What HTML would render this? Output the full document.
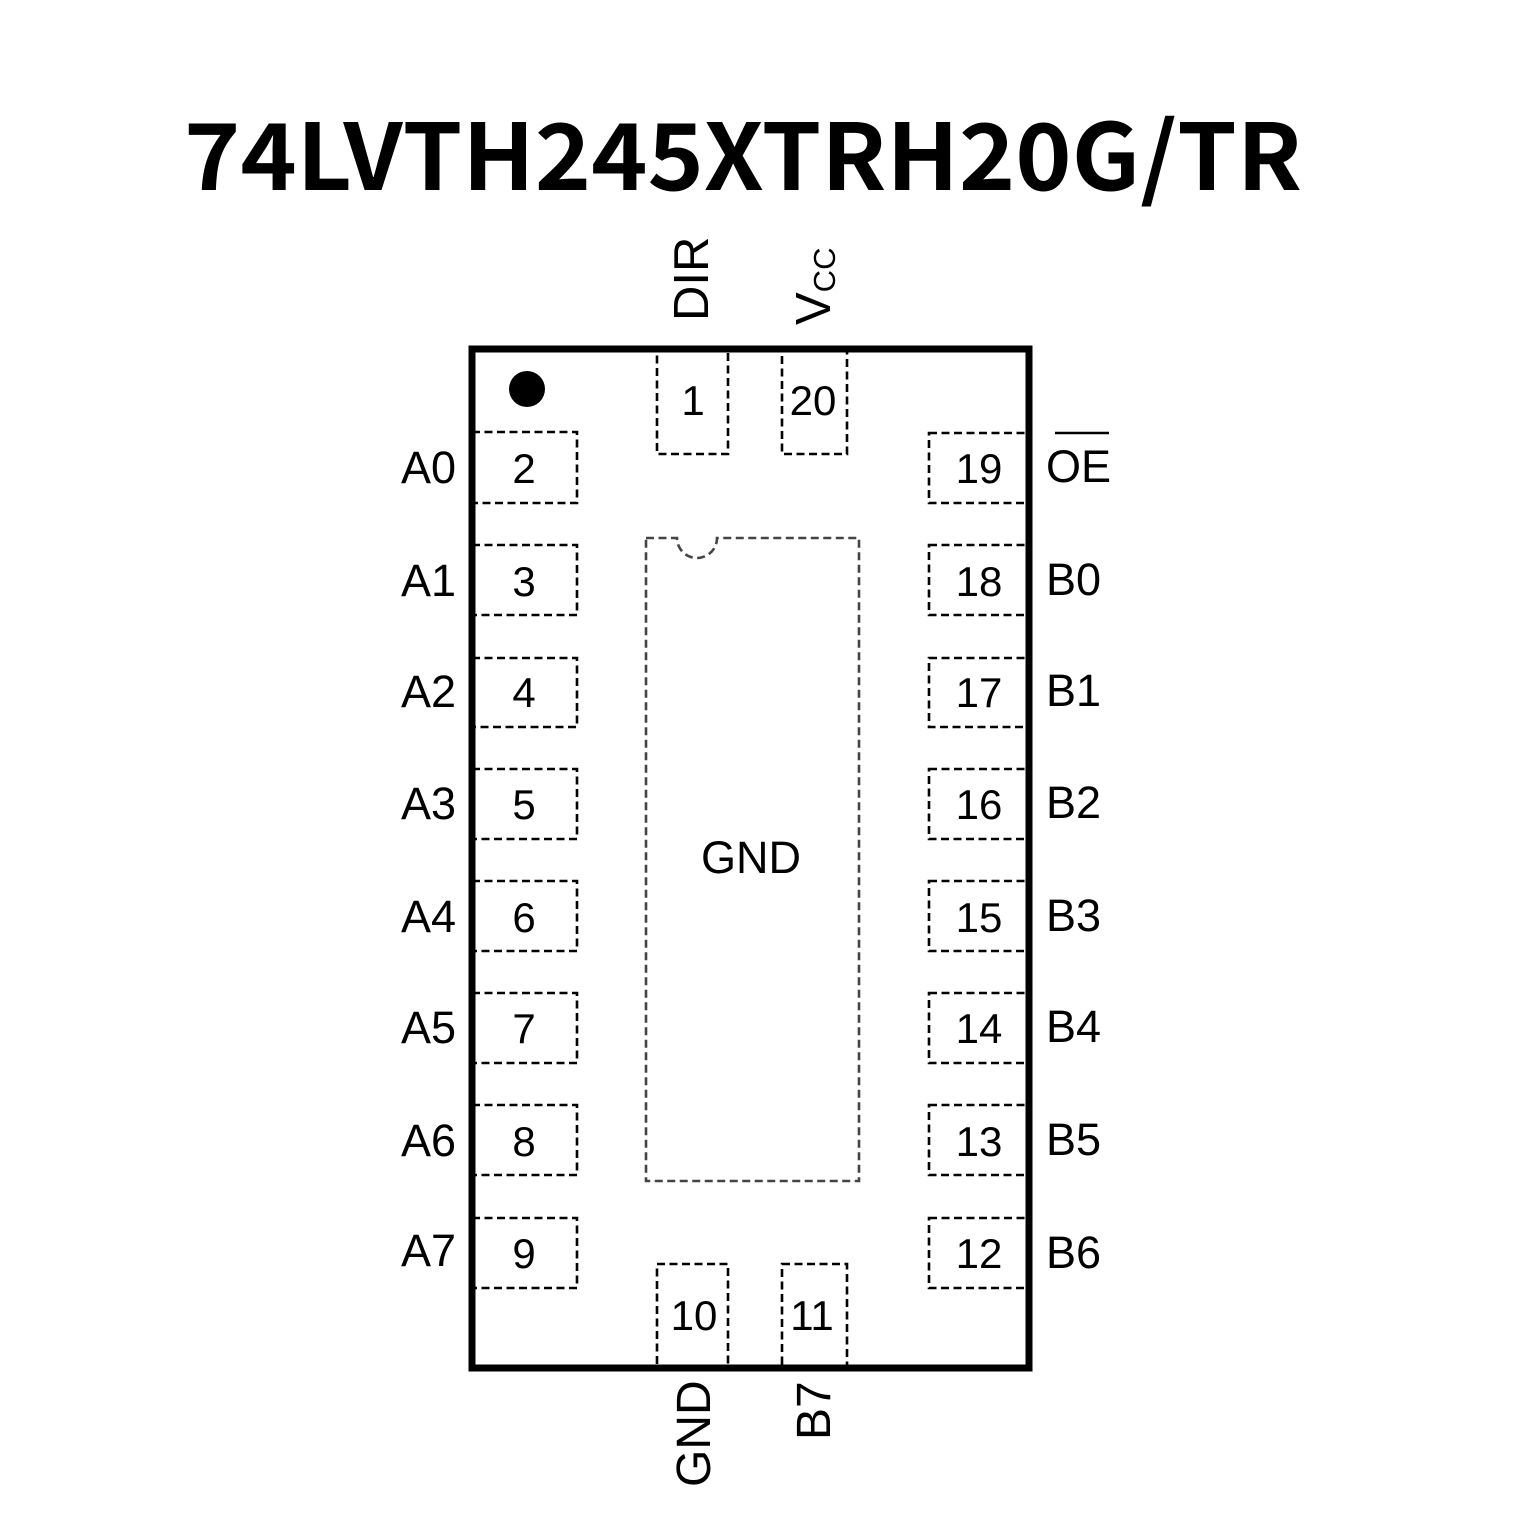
<!DOCTYPE html>
<html>
<head>
<meta charset="utf-8">
<style>
html,body{margin:0;padding:0;background:#fff;}
svg{display:block;}
text{font-family:"Liberation Sans", Arial, sans-serif; fill:#000;}
</style>
</head>
<body>
<svg width="1535" height="1535" viewBox="0 0 1535 1535" xmlns="http://www.w3.org/2000/svg">
  <rect x="0" y="0" width="1535" height="1535" fill="#fff"/>
  <!-- Title -->
  <text x="184" y="190" font-size="92" font-weight="bold" style="font-family:'Noto Sans CJK SC','Liberation Sans',sans-serif" textLength="1118" lengthAdjust="spacingAndGlyphs">74LVTH245XTRH20G/TR</text>

  <!-- Dashed pins -->
  <g fill="none" stroke="#000" stroke-width="2.6" stroke-dasharray="8 4.5">
    <rect x="657" y="349" width="71" height="105"/>
    <rect x="782" y="349" width="65" height="105"/>
    <rect x="657" y="1264" width="71" height="104"/>
    <rect x="782" y="1264" width="65" height="104"/>
    <rect x="472" y="432" width="105" height="71"/>
    <rect x="472" y="545" width="105" height="70"/>
    <rect x="472" y="658" width="105" height="69"/>
    <rect x="472" y="769" width="105" height="70"/>
    <rect x="472" y="881" width="105" height="70"/>
    <rect x="472" y="993" width="105" height="70"/>
    <rect x="472" y="1105" width="105" height="70"/>
    <rect x="472" y="1218" width="105" height="70"/>
    <rect x="929" y="433" width="100" height="70"/>
    <rect x="929" y="545" width="100" height="70"/>
    <rect x="929" y="658" width="100" height="69"/>
    <rect x="929" y="769" width="100" height="70"/>
    <rect x="929" y="881" width="100" height="70"/>
    <rect x="929" y="993" width="100" height="70"/>
    <rect x="929" y="1105" width="100" height="70"/>
    <rect x="929" y="1218" width="100" height="70"/>
  </g>

  <!-- GND pad -->
  <path d="M646,538 L677,538 A20,20 0 0 0 717,538 L859,538 L859,1181 L646,1181 Z" fill="none" stroke="#444" stroke-width="2.6" stroke-dasharray="8 4.5"/>

  <!-- Package outline -->
  <rect x="472" y="349" width="557" height="1019" fill="none" stroke="#000" stroke-width="7"/>

  <!-- pin 1 dot -->
  <circle cx="527" cy="389" r="18" fill="#000"/>

  <!-- pin numbers -->
  <g font-size="42" text-anchor="middle">
    <text x="693" y="415">1</text>
    <text x="813" y="415">20</text>
    <text x="694" y="1330">10</text>
    <text x="812" y="1330">11</text>
    <text x="524" y="483">2</text>
    <text x="524" y="596">3</text>
    <text x="524" y="707">4</text>
    <text x="524" y="819">5</text>
    <text x="524" y="932">6</text>
    <text x="524" y="1043">7</text>
    <text x="524" y="1156">8</text>
    <text x="524" y="1268">9</text>
    <text x="979" y="483">19</text>
    <text x="979" y="596">18</text>
    <text x="979" y="707">17</text>
    <text x="979" y="819">16</text>
    <text x="979" y="932">15</text>
    <text x="979" y="1043">14</text>
    <text x="979" y="1156">13</text>
    <text x="979" y="1268">12</text>
  </g>

  <!-- left labels -->
  <g font-size="45" text-anchor="end">
    <text x="456" y="483">A0</text>
    <text x="456" y="596">A1</text>
    <text x="456" y="707">A2</text>
    <text x="456" y="819">A3</text>
    <text x="456" y="932">A4</text>
    <text x="456" y="1043">A5</text>
    <text x="456" y="1156">A6</text>
    <text x="456" y="1266">A7</text>
  </g>
  <!-- right labels -->
  <g font-size="45">
    <text x="1046" y="482">OE</text>
    <text x="1046" y="595">B0</text>
    <text x="1046" y="706">B1</text>
    <text x="1046" y="818">B2</text>
    <text x="1046" y="931">B3</text>
    <text x="1046" y="1042">B4</text>
    <text x="1046" y="1155">B5</text>
    <text x="1046" y="1268">B6</text>
  </g>
  <line x1="1055" y1="433" x2="1109" y2="433" stroke="#000" stroke-width="2.5"/>

  <!-- center GND -->
  <text x="751" y="873" font-size="45" text-anchor="middle">GND</text>

  <!-- rotated top labels -->
  <text transform="translate(708,321) rotate(-90)" font-size="49">DIR</text>
  <text transform="translate(830,325) rotate(-90)" font-size="49">V<tspan font-size="31" dy="5">CC</tspan></text>

  <!-- rotated bottom labels -->
  <text transform="translate(710,1487) rotate(-90)" font-size="48">GND</text>
  <text transform="translate(830,1440) rotate(-90)" font-size="48">B7</text>
</svg>
</body>
</html>
